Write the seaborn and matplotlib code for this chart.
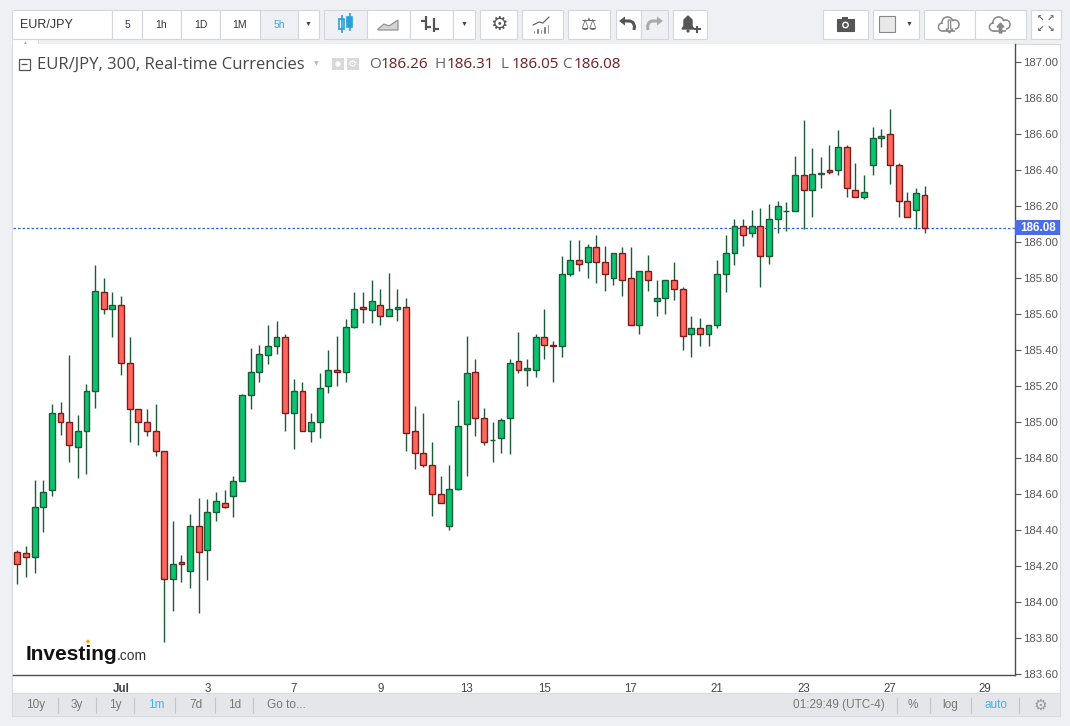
import matplotlib
matplotlib.use("Agg")
import matplotlib.pyplot as plt
from matplotlib.patches import Rectangle, Circle, Polygon, FancyArrow
from matplotlib.transforms import blended_transform_factory
import seaborn as sns
import pandas as pd

# EUR/JPY 5h candles
opens = [184.28, 184.27, 184.25, 184.53, 184.62, 185.05, 185.00, 184.86, 184.95, 185.17,
         185.72, 185.63, 185.65, 185.33, 185.07, 185.00, 184.95, 184.84, 184.13, 184.22,
         184.17, 184.42, 184.29, 184.50, 184.55, 184.59, 184.67, 185.15, 185.28, 185.37,
         185.42, 185.47, 185.05, 185.17, 184.95, 185.00, 185.20, 185.29, 185.28, 185.53,
         185.64, 185.62, 185.65, 185.59, 185.63, 185.64, 184.95, 184.83, 184.76, 184.60,
         184.42, 184.63, 184.99, 185.28, 185.02, 184.90, 184.91, 185.02, 185.34, 185.29,
         185.29, 185.47, 185.43, 185.42, 185.82, 185.90, 185.89, 185.97, 185.89, 185.80,
         185.94, 185.80, 185.54, 185.84, 185.67, 185.69, 185.79, 185.74, 185.49, 185.52,
         185.49, 185.54, 185.82, 185.94, 186.09, 186.05, 186.09, 185.92, 186.13, 186.17,
         186.17, 186.37, 186.29, 186.377, 186.40, 186.40, 186.53, 186.29, 186.25, 186.43,
         186.58, 186.60, 186.43, 186.23, 186.18, 186.26]
highs = [184.29, 184.31, 184.68, 184.68, 185.10, 185.11, 185.37, 185.04, 185.21, 185.87,
         185.80, 185.72, 185.70, 185.47, 185.07, 185.07, 185.10, 184.84, 184.45, 184.26,
         184.49, 184.58, 184.57, 184.61, 184.62, 184.70, 185.155, 185.41, 185.43, 185.54,
         185.56, 185.49, 185.24, 185.22, 185.05, 185.27, 185.40, 185.48, 185.57, 185.72,
         185.72, 185.79, 185.74, 185.83, 185.74, 185.69, 185.09, 185.05, 184.89, 184.70,
         184.76, 185.12, 185.48, 185.35, 185.08, 185.00, 185.02, 185.35, 185.50, 185.35,
         185.49, 185.63, 185.45, 185.92, 186.01, 186.01, 185.99, 186.04, 185.98, 185.94,
         185.97, 185.97, 185.84, 185.93, 185.79, 185.79, 185.89, 185.75, 185.59, 185.58,
         185.54, 185.90, 186.04, 186.13, 186.13, 186.18, 186.19, 186.21, 186.23, 186.22,
         186.48, 186.68, 186.52, 186.47, 186.54, 186.62, 186.54, 186.44, 186.37, 186.64,
         186.63, 186.74, 186.44, 186.28, 186.30, 186.31]
lows = [184.10, 184.14, 184.16, 184.39, 184.59, 184.93, 184.78, 184.69, 184.71, 185.08,
        185.60, 185.47, 185.26, 184.89, 184.87, 184.92, 184.81, 183.78, 183.95, 184.11,
        184.08, 183.94, 184.12, 184.45, 184.52, 184.47, 184.67, 185.07, 185.22, 185.32,
        185.38, 184.95, 184.85, 184.95, 184.89, 184.91, 185.16, 185.20, 185.22, 185.52,
        185.55, 185.55, 185.54, 185.59, 185.56, 184.84, 184.74, 184.75, 184.48, 184.55,
        184.40, 184.62, 184.70, 184.92, 184.87, 184.78, 184.83, 184.82, 185.27, 185.20,
        185.25, 185.35, 185.22, 185.36, 185.81, 185.84, 185.80, 185.77, 185.73, 185.76,
        185.70, 185.54, 185.49, 185.73, 185.59, 185.60, 185.68, 185.40, 185.36, 185.42,
        185.42, 185.52, 185.72, 185.87, 185.98, 186.03, 185.75, 185.88, 186.05, 186.06,
        186.17, 186.07, 186.14, 186.30, 186.38, 186.37, 186.25, 186.25, 186.24, 186.37,
        186.53, 186.32, 186.14, 186.14, 186.07, 186.05]
closes = [184.21, 184.25, 184.53, 184.61, 185.05, 185.00, 184.87, 184.95, 185.17, 185.73,
          185.63, 185.65, 185.33, 185.07, 185.00, 184.95, 184.84, 184.13, 184.21, 184.21,
          184.42, 184.28, 184.50, 184.56, 184.53, 184.67, 185.15, 185.28, 185.38, 185.42,
          185.47, 185.05, 185.17, 184.95, 185.00, 185.19, 185.29, 185.28, 185.53, 185.63,
          185.63, 185.67, 185.59, 185.63, 185.64, 184.94, 184.83, 184.76, 184.60, 184.55,
          184.63, 184.98, 185.27, 185.02, 184.89, 184.90, 185.01, 185.33, 185.29, 185.30,
          185.47, 185.43, 185.42, 185.82, 185.90, 185.88, 185.97, 185.89, 185.82, 185.94,
          185.79, 185.54, 185.84, 185.79, 185.69, 185.79, 185.74, 185.48, 185.52, 185.49,
          185.54, 185.82, 185.94, 186.09, 186.04, 186.09, 185.92, 186.13, 186.20, 186.17,
          186.37, 186.29, 186.38, 186.383, 186.39, 186.53, 186.30, 186.25, 186.28, 186.58,
          186.59, 186.43, 186.23, 186.14, 186.27, 186.08]

last_price = 186.08
date_ticks = [12, 22, 32, 42, 52, 61, 71, 81, 91, 101, 112]
date_labels = ['Jul', '3', '7', '9', '13', '15', '17', '21', '23', '27', '29']
price_ticks = [183.60, 183.80, 184.00, 184.20, 184.40, 184.60, 184.80, 185.00, 185.20,
               185.40, 185.60, 185.80, 186.00, 186.20, 186.40, 186.60, 186.80, 187.00]
ohlc_names = ['O', 'H', 'L', 'C']
ohlc_values = ['186.26', '186.31', '186.05', '186.08']

df = pd.DataFrame({'open': opens, 'high': highs, 'low': lows, 'close': closes})
df['idx'] = range(len(df))
df['up'] = df['close'] >= df['open']
df['bottom'] = df[['open', 'close']].min(axis=1)
df['height'] = (df['close'] - df['open']).abs().clip(lower=0.002)

sns.set_style("white")
plt.rcParams['font.family'] = ['Liberation Sans', 'DejaVu Sans']

W, H = 1070, 726
fig = plt.figure(figsize=(W / 100, H / 100), dpi=100)
fig.patch.set_facecolor('#eef0f3')

# pixel-space background layer
bg = fig.add_axes([0, 0, 1, 1], zorder=0)
bg.set_xlim(0, W)
bg.set_ylim(H, 0)
bg.axis('off')

bg.add_patch(Rectangle((12, 44), 1048, 649, fc='white', ec='#d7dadf', lw=0.8))
bg.add_patch(Rectangle((12, 693), 1048, 23, fc='#e5e6e9', ec='#d7dadf', lw=0.8))
bg.add_patch(Rectangle((12, 38), 26, 6, fc='white', ec='#d7dadf', lw=0.6))
bg.text(25, 41.5, '▴', ha='center', va='center', fontsize=4, color='#aaa')

# top toolbar
def box(x0, x1, fc='white'):
    bg.add_patch(Rectangle((x0, 10), x1 - x0, 29, fc=fc, ec='#d3d6db', lw=0.8))

def cloud(cx, up):
    parts = [(cx - 7, 27, 4.0), (cx - 2, 22.5, 5.5), (cx + 5, 24.5, 4.5)]
    for x, y, r in parts:
        bg.add_patch(Circle((x, y), r, fc='white', ec='#888', lw=1.2))
    bg.add_patch(Rectangle((cx - 7, 27), 12, 4, fc='white', ec='none'))
    bg.hlines(31, cx - 7, cx + 5, color='#888', lw=1.2)
    for x, y, r in parts:
        bg.add_patch(Circle((x, y), r - 0.9, fc='white', ec='none'))
    if up:
        bg.add_patch(FancyArrow(cx, 33, 0, -10, width=2.4, head_width=7, head_length=4,
                                fc='#888', ec='#888', length_includes_head=True))
    else:
        bg.add_patch(FancyArrow(cx, 20, 0, 13, width=2.4, head_width=7, head_length=4,
                                fc='white', ec='#888', lw=0.9, length_includes_head=True))

box(12, 112)
bg.text(20, 24.5, 'EUR/JPY', ha='left', va='center', fontsize=9, color='#333')
for x0, x1, lab in [(112, 142, '5'), (142, 181, '1h'), (181, 220, '1D'), (220, 260, '1M')]:
    box(x0, x1)
    bg.text((x0 + x1) / 2, 24.5, lab, ha='center', va='center', fontsize=7.5, color='#333')
box(260, 298, fc='#eef0f3')
bg.text(279, 24.5, '5h', ha='center', va='center', fontsize=7.5, color='#3ea6e0')
box(298, 319)
bg.text(308.5, 24.5, '▼', ha='center', va='center', fontsize=5, color='#444')

box(324, 367, fc='#eef0f3')
bg.vlines([341.5, 349.5], [15, 13], [33, 31], color='#2a9fd8', lw=1.2)
bg.add_patch(Rectangle((339, 19), 5, 10, fc='white', ec='#2a9fd8', lw=1.2))
bg.add_patch(Rectangle((347, 17), 5, 10, fc='#2a9fd8', ec='#2a9fd8', lw=1.2))
box(367, 410)
bg.add_patch(Polygon([(378, 29), (384, 24), (389, 26), (398, 20), (398, 30), (378, 30)],
                     fc='#d4d4d4', ec='#888', lw=0.8))
box(410, 453)
bg.vlines([426, 434], [16, 18], [30, 32], color='#555', lw=1.6)
bg.hlines([21, 27, 29], [421, 426, 434], [426, 431, 439], color='#555', lw=1.6)
box(453, 475)
bg.text(464, 24.5, '▼', ha='center', va='center', fontsize=5, color='#444')
box(480, 517)
bg.text(498.5, 24.5, '⚙', ha='center', va='center', fontsize=14, color='#555',
        family='DejaVu Sans')
box(522, 563)
bg.bar([534, 537.5, 541, 544.5, 548], [4, 6, 5, 8, 10], bottom=[30, 28, 29, 26, 24],
       width=2.2, color='#666')
bg.plot([533, 539, 543, 549], [25, 22, 23, 17], color='#666', lw=0.9)
box(568, 610)
bg.text(589, 24.5, '⚖', ha='center', va='center', fontsize=13, color='#666',
        family='DejaVu Sans')
box(616, 641)
box(641, 668, fc='#eef0f3')
bg.plot([624, 630, 633, 634.5, 634], [21, 21, 22.5, 26, 30], color='#555', lw=2.2,
        solid_capstyle='butt')
bg.add_patch(Polygon([(619, 21), (625, 16.5), (625, 25.5)], fc='#555', ec='none'))
bg.plot([658, 652, 649, 647.5, 648], [21, 21, 22.5, 26, 30], color='#aaa', lw=2.2,
        solid_capstyle='butt')
bg.add_patch(Polygon([(663, 21), (657, 16.5), (657, 25.5)], fc='#aaa', ec='none'))
box(673, 707)
bg.add_patch(Polygon([(682, 29), (684, 26), (684, 20), (688, 16), (692, 20), (692, 26),
                      (694, 29)], fc='#555', ec='#555'))
bg.add_patch(Circle((688, 31), 1.6, fc='#555', ec='none'))
bg.hlines(29, 693.5, 700.5, color='#555', lw=1.5)
bg.vlines(697, 25.5, 32.5, color='#555', lw=1.5)

box(823, 868)
bg.add_patch(Rectangle((837, 19), 17, 12, fc='#555', ec='#555', lw=0.8))
bg.add_patch(Rectangle((842, 17), 6, 3, fc='#555', ec='none'))
bg.add_patch(Circle((845.5, 25), 3.4, fc='white', ec='none'))
bg.add_patch(Circle((845.5, 25), 2.0, fc='#555', ec='none'))
box(873, 919)
bg.add_patch(Rectangle((879, 16), 16, 16, fc='#e8e8e8', ec='#888', lw=0.8))
bg.text(909, 24.5, '▼', ha='center', va='center', fontsize=5, color='#444')
box(924, 975)
box(975, 1026)
cloud(949.5, False)
cloud(1000.5, True)
box(1031, 1061)
for dx, dy, g in [(-5, -5, '↖'), (5, -5, '↗'), (-5, 5, '↙'), (5, 5, '↘')]:
    bg.text(1046 + dx, 24.5 + dy, g, ha='center', va='center', fontsize=6.5,
            color='#666', family='DejaVu Sans', fontweight='bold')

# bottom toolbar
for x, lab in [(36, '10y'), (77, '3y'), (115, '1y'), (156, '1m'), (196, '7d'), (235, '1d')]:
    bg.text(x, 705, lab, ha='center', va='center', fontsize=8.5,
            color='#43b2e6' if lab == '1m' else '#777')
bg.text(267, 705, 'Go to...', ha='left', va='center', fontsize=8.5, color='#777')
for x, lab in [(839, '01:29:49 (UTC-4)'), (913, '%'), (950, 'log'), (996, 'auto')]:
    bg.text(x, 705, lab, ha='center', va='center', fontsize=8.5,
            color='#43b2e6' if lab == 'auto' else '#777')
bg.text(1040, 705, '⚙', ha='center', va='center', fontsize=11, color='#999',
        family='DejaVu Sans')
bg.vlines([58, 96, 134, 175, 215, 253, 897, 930, 971, 1019], 697, 713,
          color='#c3c5c9', lw=0.8)

# main candlestick panel
ax = fig.add_axes([13 / W, (H - 675) / H, (1015 - 13) / W, (675 - 44) / H], zorder=1)
ax.set_facecolor('white')
ax.vlines(df['idx'], df['low'], df['high'], color='#1d5a37', lw=1.0, zorder=2)
up = df[df['up']]
down = df[~df['up']]
ax.bar(up['idx'], up['height'], bottom=up['bottom'], width=0.68, color='#0ac46f',
       edgecolor='#1d5a37', linewidth=1.0, zorder=3)
ax.bar(down['idx'], down['height'], bottom=down['bottom'], width=0.68, color='#ff675d',
       edgecolor='#7b1c1c', linewidth=1.0, zorder=3)
ax.axhline(last_price, color='#2f63e8', lw=0.9, ls=(0, (2, 1.6)), zorder=1)

ax.set_xlim(-0.5, 115.47)
ax.set_ylim(183.594, 187.1)
ax.set_xticks(date_ticks)
ax.set_xticklabels(date_labels)
ax.get_xticklabels()[0].set_fontweight('bold')
ax.set_yticks(price_ticks)
ax.set_yticklabels([f'{v:.2f}' for v in price_ticks])
ax.yaxis.tick_right()
ax.tick_params(axis='y', direction='out', length=4, width=0.8, color='#555',
               labelsize=8.2, labelcolor='#555', pad=2)
ax.tick_params(axis='x', direction='out', length=4, width=0.8, color='#555',
               labelsize=8.3, labelcolor='#444', pad=2)
for side in ['left', 'top']:
    ax.spines[side].set_visible(False)
for side in ['right', 'bottom']:
    ax.spines[side].set_color('#4d4d4d')
    ax.spines[side].set_linewidth(1.0)
ax.set_xlabel('')
ax.set_ylabel('')

# last price tag on the scale
tr = blended_transform_factory(ax.transAxes, ax.transData)
ax.add_patch(Rectangle((1.0, last_price - 0.04), 45 / 1002, 0.08, transform=tr,
                       fc='#4a6de5', ec='none', clip_on=False, zorder=5))
ax.text(1.0 + 5 / 1002, last_price, f'{last_price:.2f}', transform=tr, ha='left',
        va='center', fontsize=8.4, color='white', fontweight='bold', zorder=6)

# overlay: legend header and logo
ov = fig.add_axes([0, 0, 1, 1], zorder=2)
ov.set_xlim(0, W)
ov.set_ylim(H, 0)
ov.axis('off')
ov.patch.set_alpha(0)

head_font = ['Open Sans', 'DejaVu Sans']
ov.add_patch(Rectangle((18.5, 58.5), 11, 11, fc='white', ec='#555', lw=0.9))
ov.hlines(64, 21, 27, color='#555', lw=0.9)
ov.text(37, 64.5, 'EUR/JPY, 300, Real-time Currencies', ha='left', va='center',
        fontsize=12, color='#474747', family=head_font)
ov.text(316, 63.5, '▼', ha='center', va='center', fontsize=4.5, color='#bbb',
        family='DejaVu Sans')
ov.add_patch(Rectangle((332, 58), 12, 12, fc='#d9d9d9', ec='none'))
ov.add_patch(Circle((338, 64), 2.6, fc='white', ec='none'))
ov.add_patch(Rectangle((347, 58), 12, 12, fc='#d9d9d9', ec='none'))
ov.text(353, 64.3, '⚙', ha='center', va='center', fontsize=7.5, color='white',
        family='DejaVu Sans')
for x, name, val in zip([369, 435, 500, 562], ohlc_names, ohlc_values):
    ov.text(x, 64.5, name, ha='left', va='center', fontsize=11, color='#666',
            family=head_font)
    ov.text(x + 11.5, 64.5, val, ha='left', va='center', fontsize=11, color='#6e1f1f',
            family=head_font)

ov.text(26, 660, 'Investing', ha='left', va='baseline', fontsize=15, fontweight='bold',
        color='#111')
ov.text(117, 660, '.com', ha='left', va='baseline', fontsize=10, color='#333')
ov.add_patch(Circle((88, 641.5), 1.8, fc='#f7a21b', ec='none'))

fig.savefig('out.png', dpi=100, facecolor=fig.get_facecolor())
